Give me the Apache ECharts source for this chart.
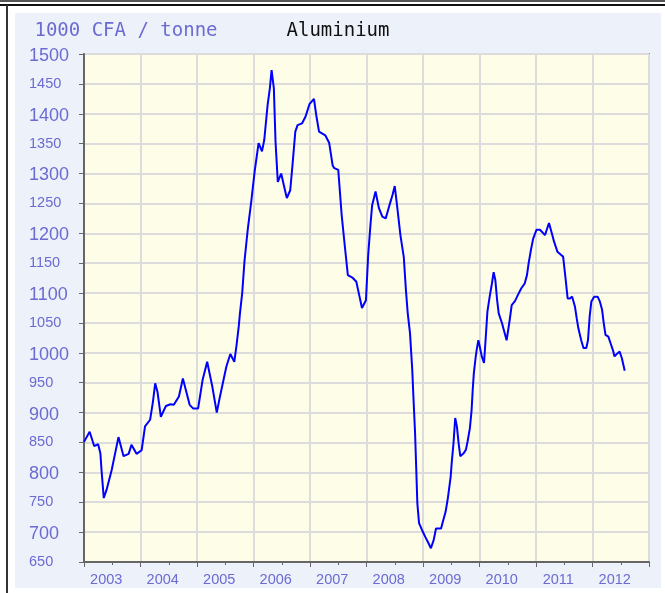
<!DOCTYPE html>
<html>
<head>
<meta charset="utf-8">
<script src="https://cdn.jsdelivr.net/npm/echarts@6/dist/echarts.min.js"></script>
<style>
  html, body { margin: 0; padding: 0; background: #fff; }
  #chart { width: 665px; height: 593px; }
</style>
</head>
<body>
<div id="chart"></div>
<script>
// decimal years (2003.0 = start of 2003) and prices in 1000 CFA / tonne
const dates = [
  2003.00, 2003.10, 2003.18, 2003.25, 2003.29, 2003.31, 2003.35, 2003.40, 2003.49, 2003.61,
  2003.70, 2003.79, 2003.84, 2003.93, 2004.02, 2004.08, 2004.17, 2004.22, 2004.26, 2004.30,
  2004.36, 2004.45, 2004.53, 2004.59, 2004.68, 2004.75, 2004.87, 2004.93, 2005.02, 2005.10,
  2005.18, 2005.27, 2005.35, 2005.40, 2005.52, 2005.59, 2005.66, 2005.70, 2005.74, 2005.76,
  2005.80, 2005.84, 2005.90, 2005.96, 2006.02, 2006.09, 2006.15, 2006.19, 2006.25, 2006.29,
  2006.32, 2006.36, 2006.39, 2006.43, 2006.49, 2006.55, 2006.59, 2006.65, 2006.69, 2006.74,
  2006.78, 2006.86, 2006.92, 2006.99, 2007.07, 2007.11, 2007.16, 2007.27, 2007.34, 2007.40,
  2007.43, 2007.50, 2007.56, 2007.62, 2007.67, 2007.75, 2007.82, 2007.87, 2007.92, 2007.99,
  2008.03, 2008.07, 2008.10, 2008.16, 2008.22, 2008.28, 2008.34, 2008.40, 2008.46, 2008.50,
  2008.54, 2008.60, 2008.66, 2008.70, 2008.73, 2008.77, 2008.79, 2008.81, 2008.83, 2008.86,
  2008.88, 2008.90, 2008.93, 2008.98, 2009.04, 2009.10, 2009.14, 2009.19, 2009.23, 2009.28,
  2009.32, 2009.35, 2009.40, 2009.44, 2009.49, 2009.51, 2009.54, 2009.57, 2009.60, 2009.63,
  2009.66, 2009.72, 2009.76, 2009.79, 2009.83, 2009.86, 2009.88, 2009.90, 2009.93, 2009.95,
  2009.98, 2010.01, 2010.04, 2010.08, 2010.11, 2010.14, 2010.18, 2010.22, 2010.25, 2010.28,
  2010.31, 2010.34, 2010.40, 2010.44, 2010.48, 2010.53, 2010.57, 2010.63, 2010.68, 2010.74,
  2010.80, 2010.84, 2010.87, 2010.91, 2010.95, 2011.01, 2011.07, 2011.16, 2011.19, 2011.23,
  2011.28, 2011.32, 2011.38, 2011.44, 2011.48, 2011.52, 2011.56, 2011.60, 2011.64, 2011.69,
  2011.72, 2011.75, 2011.80, 2011.84, 2011.89, 2011.92, 2011.95, 2011.98, 2012.03, 2012.09,
  2012.13, 2012.17, 2012.20, 2012.23, 2012.28, 2012.32, 2012.36, 2012.39, 2012.44, 2012.48,
  2012.52, 2012.57
];
const prices = [
  851, 868, 844, 847, 832, 804, 757, 771, 804, 859,
  827, 831, 846, 831, 837, 877, 888, 918, 949, 935,
  893, 911, 914, 913, 927, 957, 913, 907, 907, 955,
  985, 944, 900, 924, 977, 998, 985, 1013, 1045, 1066,
  1100, 1153, 1208, 1253, 1303, 1351, 1337, 1356, 1415, 1443,
  1473, 1443, 1353, 1286, 1300, 1275, 1259, 1272, 1314, 1370,
  1381, 1384, 1395, 1416, 1425, 1398, 1370, 1364, 1351, 1314,
  1309, 1306, 1231, 1175, 1130, 1126, 1119, 1097, 1075, 1088,
  1164, 1214, 1247, 1270, 1242, 1228, 1225, 1245, 1264, 1279,
  1247, 1197, 1160, 1102, 1066, 1033, 1002, 971, 927, 865,
  807, 748, 715, 704, 692, 681, 673, 687, 706, 706,
  706, 717, 734, 757, 793, 818, 849, 891, 877, 849,
  827, 832, 838, 852, 874, 904, 938, 966, 991, 1005,
  1021, 1008, 994, 983, 1025, 1069, 1094, 1116, 1135, 1122,
  1090, 1066, 1049, 1035, 1021, 1052, 1080, 1087, 1097, 1108,
  1116, 1130, 1150, 1172, 1191, 1206, 1206, 1197, 1206, 1217,
  1200, 1186, 1169, 1164, 1161, 1127, 1091, 1091, 1094, 1077,
  1058, 1041, 1021, 1008, 1008, 1021, 1061, 1086, 1094, 1094,
  1086, 1072, 1049, 1030, 1027, 1016, 1005, 994, 999, 1002,
  991, 970
];
const yearLabels = ['2003', '2004', '2005', '2006', '2007', '2008', '2009', '2010', '2011', '2012'];

const labelColor = '#6b6bd2';

const chart = echarts.init(document.getElementById('chart'));
chart.setOption({
  backgroundColor: '#ffffff',
  animation: false,
  graphic: [
    // outer frame
    { type: 'rect', z: -20, shape: { x: 0, y: 0, width: 665, height: 2 }, style: { fill: '#555' } },
    { type: 'rect', z: -20, shape: { x: 0, y: 4, width: 665, height: 2 }, style: { fill: '#111' } },
    { type: 'rect', z: -20, shape: { x: 6, y: 5, width: 2, height: 588 }, style: { fill: '#333' } },
    // light panel
    { type: 'rect', z: -20, shape: { x: 15, y: 13, width: 646, height: 575 }, style: { fill: '#edf1fa' } },
    {
      type: 'text', z: 100, x: 126, y: 31,
      style: { text: '1000 CFA / tonne', font: '19px "DejaVu Sans Mono"', fill: labelColor, align: 'center', verticalAlign: 'middle' }
    },
    {
      type: 'text', z: 100, x: 338, y: 31,
      style: { text: 'Aluminium', font: '19px "DejaVu Sans Mono"', fill: '#111', align: 'center', verticalAlign: 'middle' }
    }
  ],
  grid: {
    left: 84, right: 16, top: 54, bottom: 31,
    containLabel: false,
    outerBoundsMode: 'none',
    show: true,
    backgroundColor: '#fefde8',
    borderColor: '#8f8f8f',
    borderWidth: 2
  },
  xAxis: [
    {
      type: 'value',
      min: 2003, max: 2013, interval: 1,
      axisLine: { show: true, lineStyle: { color: '#666', width: 2 } },
      axisTick: { show: true, length: 5, lineStyle: { color: '#666' } },
      minorTick: { show: true, splitNumber: 2, length: 3, lineStyle: { color: '#666' } },
      axisLabel: { show: false },
      splitLine: { show: true, lineStyle: { color: '#dcdcdc', width: 2 } }
    },
    {
      type: 'category',
      data: yearLabels,
      position: 'bottom',
      boundaryGap: true,
      axisLine: { show: false },
      axisTick: { show: false },
      splitLine: { show: false },
      axisLabel: {
        color: labelColor,
        fontFamily: '"Liberation Sans", Arial, sans-serif',
        fontSize: 14.5,
        margin: 10,
        padding: [0, 12, 0, 0]
      }
    }
  ],
  yAxis: {
    type: 'value',
    min: 650, max: 1500, interval: 50,
    axisLine: { show: true, lineStyle: { color: '#666', width: 2 } },
    axisTick: { show: true, length: 5, lineStyle: { color: '#666' } },
    splitLine: { show: true, lineStyle: { color: '#dcdcdc', width: 2 } },
    axisLabel: {
      align: 'left',
      margin: 55,
      color: labelColor,
      fontFamily: '"Liberation Sans", Arial, sans-serif',
      formatter: function (v) {
        return v % 100 === 0 ? '{b|' + v + '}' : '{s|' + v + '}';
      },
      rich: {
        b: { fontSize: 18, color: labelColor, fontFamily: '"Liberation Sans", Arial, sans-serif', padding: [4, 0, 0, 0] },
        s: { fontSize: 14.5, color: labelColor, fontFamily: '"Liberation Sans", Arial, sans-serif', padding: [0, 0, 0, 0] }
      }
    }
  },
  series: [
    {
      type: 'line',
      xAxisIndex: 0,
      showSymbol: false,
      data: dates.map((d, i) => [d, prices[i]]),
      lineStyle: { color: '#0000ff', width: 2 },
      itemStyle: { color: '#0000ff' }
    }
  ]
});
</script>
</body>
</html>
